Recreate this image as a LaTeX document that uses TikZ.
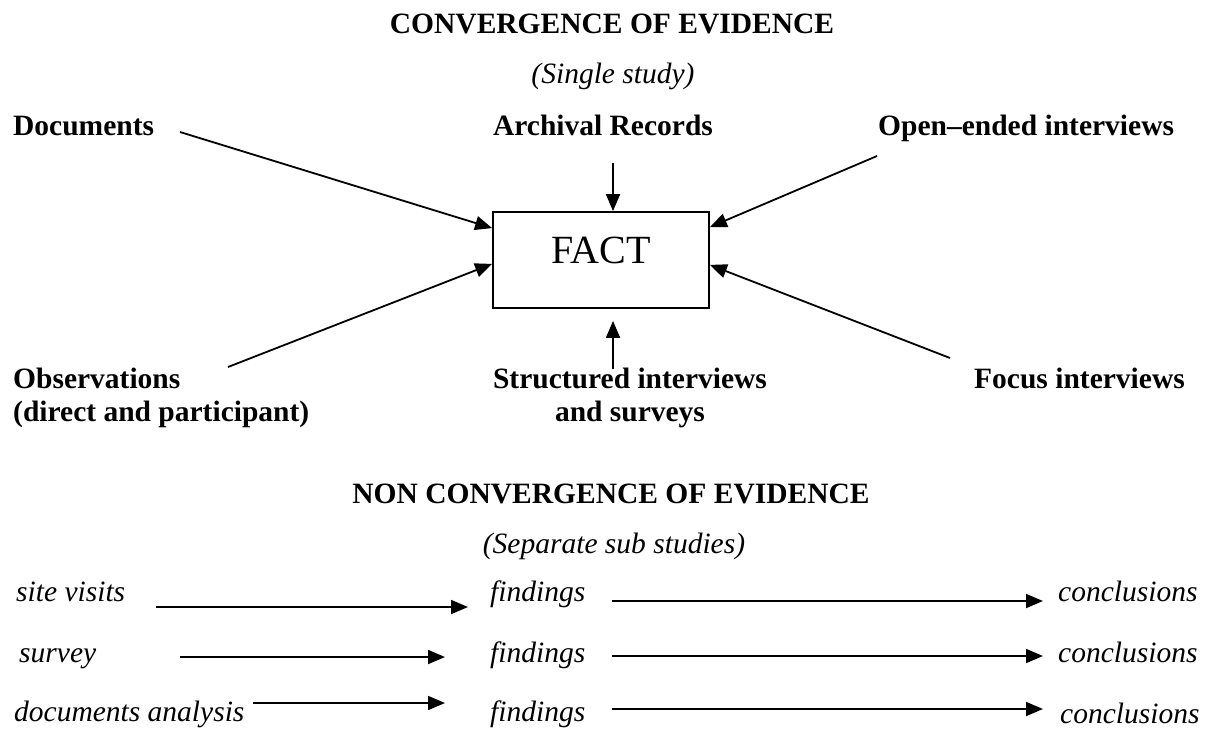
\documentclass[tikz,border=0pt]{standalone}
\usepackage{fontspec}
\setmainfont{Liberation Serif}
\usetikzlibrary{arrows.meta,calc}
\begin{document}
\begin{tikzpicture}[x=1pt,y=-1pt,
  lab/.style={inner sep=0pt,font=\fontsize{29.5}{33}\selectfont\bfseries},
  ital/.style={inner sep=0pt,font=\fontsize{29.5}{33}\selectfont\itshape},
  arr/.style={line width=1.8pt,-{Triangle[length=17pt,width=14pt]}},
  factbox/.style={draw,line width=1.8pt,inner sep=0pt,minimum width=216pt,
    text height=51pt,text depth=45pt,font=\fontsize{40}{48}\selectfont}]
\useasboundingbox (0,0) rectangle (1222,729);
% headings
\node[lab,anchor=base] (title) at (612,33) {CONVERGENCE OF EVIDENCE};
\node[ital,anchor=base] (single) at (613,83) {(Single study)};
% sources
\node[lab,anchor=base west] (docs) at (13,135) {Documents};
\node[lab,anchor=base] (arch) at (603,135) {Archival Records};
\node[lab,anchor=base west] (open) at (878,135) {Open–ended interviews};
\node[lab,anchor=base west,align=left] (obs) at (13,421) {Observations\\(direct and participant)};
\node[lab,anchor=base,align=center] (struct) at (630,421) {Structured interviews\\and surveys};
\node[lab,anchor=base west] (focus) at (974,388) {Focus interviews};
% fact
\node[factbox] (fact) at (601,260) {FACT};
% arrow start points
\coordinate (sDoc) at (180,132);
\coordinate (sArch) at (613,163);
\coordinate (sOpen) at (877,156);
\coordinate (sObs) at (228,367);
\coordinate (sStr) at (613,369);
\coordinate (sFoc) at (950,358);
\draw[arr] (sDoc) -- ($(fact.north west)+(0,17)$);
\draw[arr] (sArch) -- (sArch |- fact.north);
\draw[arr] (sOpen) -- ($(fact.north east)+(0,16)$);
\draw[arr] (sObs) -- ($(fact.south west)+(0,-45)$);
\draw[arr] (sStr) -- ($(sStr |- fact.south)+(0,12)$);
\draw[arr] (sFoc) -- ($(fact.south east)+(0,-44)$);
% non convergence
\node[lab,anchor=base] (non) at (611,503) {NON CONVERGENCE OF EVIDENCE};
\node[ital,anchor=base] (sep) at (614,553) {(Separate sub studies)};
\node[ital,anchor=base west] (site) at (16,601) {site visits};
\node[ital,anchor=base west] (survey) at (19,662) {survey};
\node[ital,anchor=base west] (docan) at (14,721) {documents analysis};
\node[ital,anchor=base west] (f1) at (490,601) {findings};
\node[ital,anchor=base west] (f2) at (490,662) {findings};
\node[ital,anchor=base west] (f3) at (490,721) {findings};
\node[ital,anchor=base west] (c1) at (1058,601) {conclusions};
\node[ital,anchor=base west] (c2) at (1058,662) {conclusions};
\node[ital,anchor=base west] (c3) at (1060,723) {conclusions};
\coordinate (a1s) at (156,607); \coordinate (a1e) at (468,607);
\coordinate (b1s) at (612,601); \coordinate (b1e) at (1043,601);
\coordinate (a2s) at (180,657); \coordinate (a2e) at (445,657);
\coordinate (b2s) at (612,656); \coordinate (b2e) at (1043,656);
\coordinate (a3s) at (253,703); \coordinate (a3e) at (445,703);
\coordinate (b3s) at (612,709); \coordinate (b3e) at (1043,709);
\draw[arr] (a1s) -- (a1e);
\draw[arr] (b1s) -- (b1e);
\draw[arr] (a2s) -- (a2e);
\draw[arr] (b2s) -- (b2e);
\draw[arr] (a3s) -- (a3e);
\draw[arr] (b3s) -- (b3e);
\end{tikzpicture}
\end{document}
